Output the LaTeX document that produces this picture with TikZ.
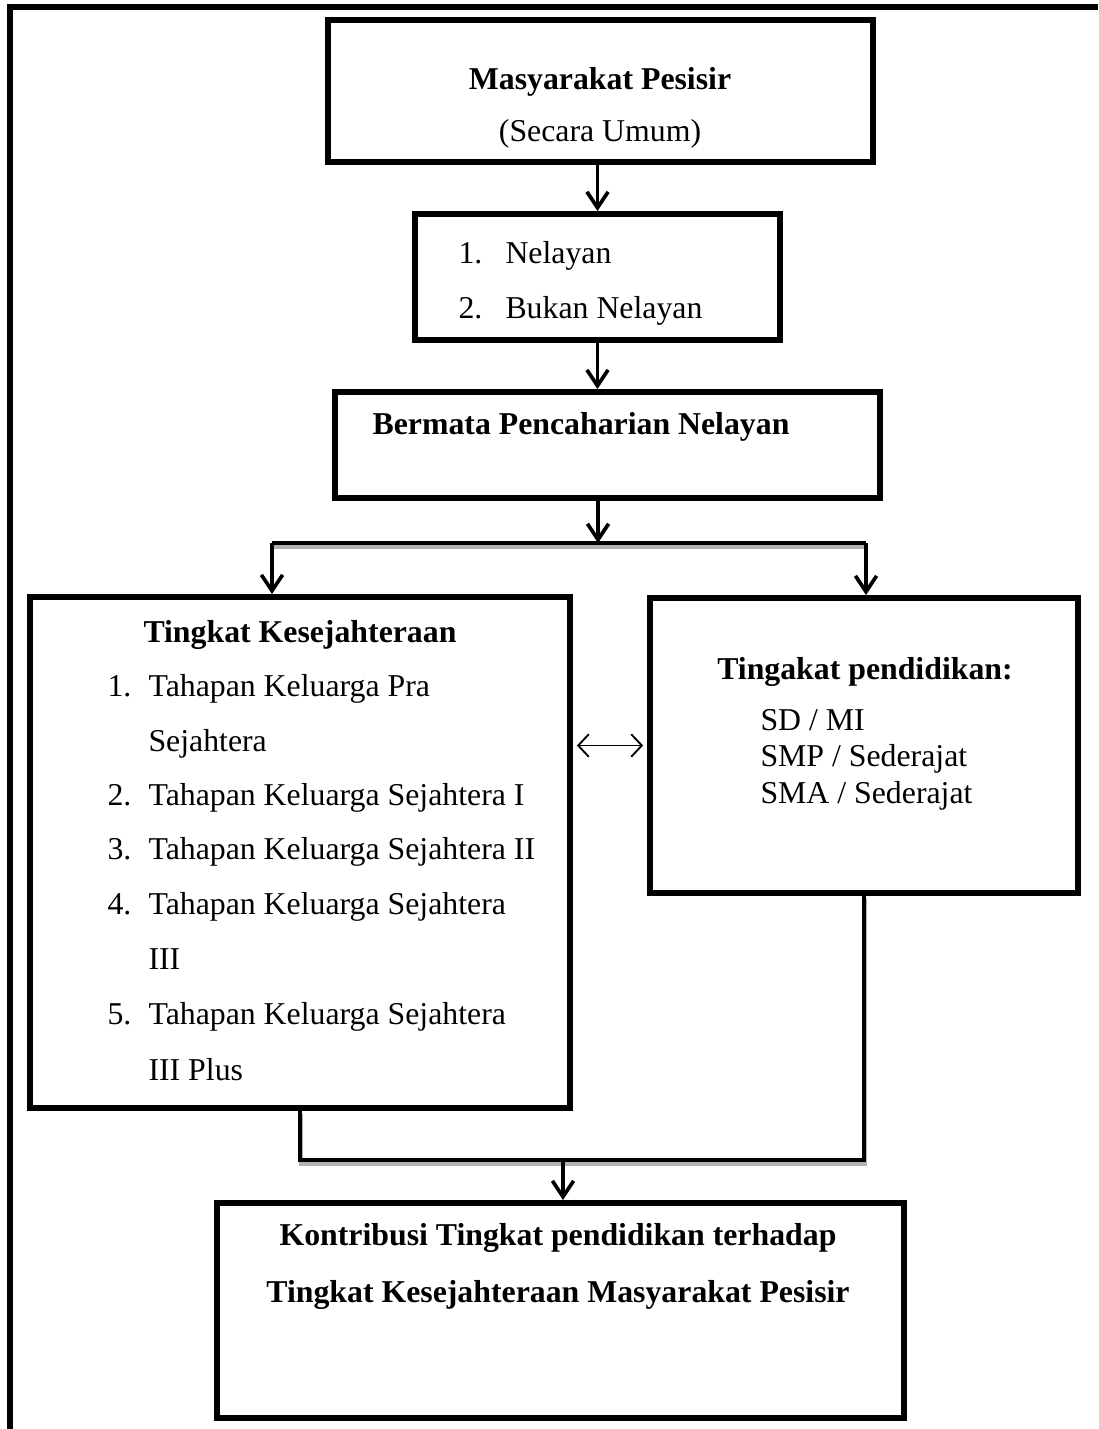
\documentclass[tikz,border=0pt]{standalone}
\usepackage{fontspec}
\setmainfont{Liberation Serif}
\usetikzlibrary{arrows.meta,calc,fit,positioning}
\tikzset{box/.style={draw,line width=2.2pt,inner sep=0pt},
	txt/.style={font=\fontsize{12}{14}\selectfont,inner sep=0pt},
	arrow/.style={line width=1.4pt,-{Straight Barb[length=6pt,width=8pt]}},
	biarrow/.style={line width=0.7pt,{Straight Barb[length=4pt,width=8.5pt]}-{Straight Barb[length=4pt,width=8.5pt]}},
	link/.style={line width=1.6pt,preaction={draw,gray!60,line width=1.8pt,transform canvas={shift={(0.4pt,-1.2pt)}}}}}

\begin{document}
\begin{tikzpicture}[x=0.3774pt,y=-0.3774pt]
	\useasboundingbox (0,0) rectangle (1098,1429);
	
	% frame
	\draw[line width=1.9pt] (10,1429) |- (1098,7);
	
	\node[box, fit={(328,20) (873,162)}] (masyarakat) {};
	\node[txt, anchor=base] (judul) at (600,90) {\textbf{Masyarakat Pesisir}};
	\node[txt, anchor=base] (umum) at (600,142) {(Secara Umum)};
	
	\node[box, fit={(415,214) (780,340)}] (pekerjaan) {};
	\node[txt, anchor=base west] (no1) at (458,264) {1.};
	\node[txt, anchor=base west] (nelayan) at (505,264) {Nelayan};
	\node[txt, anchor=base west] (no2) at (458,319) {2.};
	\node[txt, anchor=base west] (bukan) at (505,319) {Bukan Nelayan};
	
	\node[box, fit={(335,392) (880,498)}] (mata) {};
	\node[txt, anchor=base] (pencaharian) at (581,435) {\textbf{Bermata Pencaharian Nelayan}};
	
	\node[box, fit={(30,597) (570,1108)}] (sejahtera) {};
	\node[txt, anchor=base] (tingkat) at (300,642) {\textbf{Tingkat Kesejahteraan}};
	\node[txt, anchor=base west] (s1) at (107,696) {1.};
	\node[txt, anchor=base west] (t1) at (148,696) {Tahapan Keluarga Pra};
	\node[txt, anchor=base west] (t1b) at (148,751) {Sejahtera};
	\node[txt, anchor=base west] (s2) at (107,805) {2.};
	\node[txt, anchor=base west] (t2) at (148,805) {Tahapan Keluarga Sejahtera I};
	\node[txt, anchor=base west] (s3) at (107,859) {3.};
	\node[txt, anchor=base west] (t3) at (148,859) {Tahapan Keluarga Sejahtera II};
	\node[txt, anchor=base west] (s4) at (107,914) {4.};
	\node[txt, anchor=base west] (t4) at (148,914) {Tahapan Keluarga Sejahtera};
	\node[txt, anchor=base west] (t4b) at (148,969) {III};
	\node[txt, anchor=base west] (s5) at (107,1024) {5.};
	\node[txt, anchor=base west] (t5) at (148,1024) {Tahapan Keluarga Sejahtera};
	\node[txt, anchor=base west] (t5b) at (148,1080) {III Plus};
	
	\node[box, fit={(650,598) (1078,893)}] (pendidikan) {};
	\node[txt, anchor=base] (tingakat) at (865,679) {\textbf{Tingakat pendidikan:}};
	\node[txt, anchor=base west] (sd) at (760,730) {SD / MI};
	\node[txt, anchor=base west] (smp) at (760,766) {SMP / Sederajat};
	\node[txt, anchor=base west] (sma) at (760,803) {SMA / Sederajat};
	
	\node[box, fit={(217,1203) (904,1418)}] (kontribusi) {};
	\node[txt, anchor=base] (k1) at (558,1245) {\textbf{Kontribusi Tingkat pendidikan terhadap}};
	\node[txt, anchor=base] (k2) at (558,1302) {\textbf{Tingkat Kesejahteraan Masyarakat Pesisir}};
	
	\coordinate (split) at (598,543);
	\coordinate (barL) at (272,543);
	\coordinate (barR) at (866,543);
	\coordinate (join) at (563,1160);
	
	\draw[arrow] (pekerjaan.north |- masyarakat.south) -- (pekerjaan.north);
	\draw[arrow] (pekerjaan.south) -- (pekerjaan.south |- mata.north);
	\draw[arrow] (split |- mata.south) -- (split);
	\draw[link] (barL) -- (barR);
	\draw[arrow] (barL) -- (barL |- sejahtera.north);
	\draw[arrow] (barR) -- (barR |- pendidikan.north);
	\draw[biarrow, shorten <=1.5pt, shorten >=1.5pt] (pendidikan.west -| sejahtera.east) -- (pendidikan.west);
	\draw[link] (sejahtera.south) |- (join) -| (pendidikan.south);
	\draw[arrow] (join) -- (join |- kontribusi.north);
\end{tikzpicture}
\end{document}
